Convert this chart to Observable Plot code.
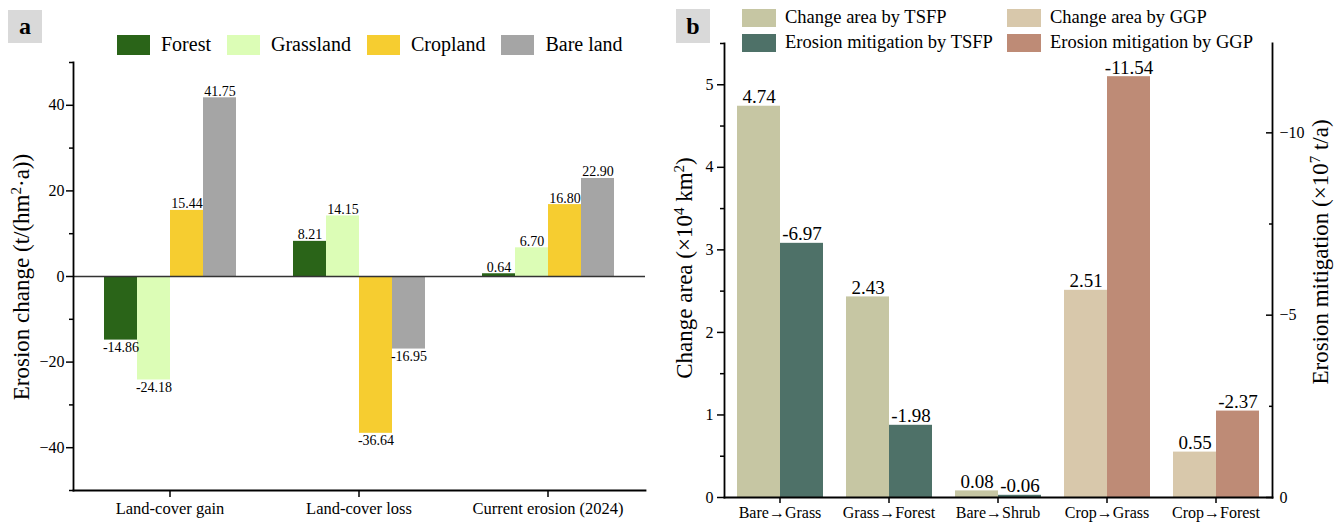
<!DOCTYPE html>
<html><head><meta charset="utf-8">
<script src="https://cdn.jsdelivr.net/npm/d3@7"></script>
<script src="https://cdn.jsdelivr.net/npm/@observablehq/plot@0.6"></script>
<style>
body{margin:0;background:#fff;font-family:"Liberation Serif","Times New Roman",serif;color:#000;}
#wrap{position:relative;width:1343px;height:522px;overflow:hidden;background:#fff;}
.tag{position:absolute;background:#d9d9d9;font-weight:bold;font-size:24px;display:flex;align-items:center;justify-content:center;}
.legA{position:absolute;left:117px;top:33px;display:flex;align-items:center;font-size:20px;white-space:nowrap;}
.legA .it{display:flex;align-items:center;margin-right:16px;}
.legA .sw{width:33px;height:20px;margin-right:11px;}
.legB{position:absolute;display:flex;align-items:center;font-size:18.5px;white-space:nowrap;}
.legB .sw{width:34px;height:18px;margin-right:9px;}
.ytitle{position:absolute;white-space:nowrap;font-size:23px;transform:translate(-50%,-50%) rotate(-90deg);}
.ytitle sup{font-size:15px;vertical-align:8px;line-height:0;}
</style></head>
<body><div id="wrap"></div>
<script>
// ---------- Panel a data ----------
const groupsA = ["Land-cover gain", "Land-cover loss", "Current erosion (2024)"];
const seriesA = ["Forest", "Grassland", "Cropland", "Bare land"];
const forest = [-14.86, 8.21, 0.64];
const grassland = [-24.18, 14.15, 6.70];
const cropland = [15.44, -36.64, 16.80];
const bareLand = [41.75, -16.95, 22.90];
const colorsA = ["#2a6418", "#dcfdb6", "#f6cd30", "#a5a5a5"];
const yTicksA = [-40, -20, 0, 20, 40];
const yMinorA = [-50, -30, -10, 10, 30, 50];

// ---------- Panel b data ----------
const transitions = ["Bare→Grass", "Grass→Forest", "Bare→Shrub", "Crop→Grass", "Crop→Forest"];
const program = ["TSFP", "TSFP", "TSFP", "GGP", "GGP"];
const changeArea = [4.74, 2.43, 0.08, 2.51, 0.55];
const erosionMitigation = [-6.97, -1.98, -0.06, -11.54, -2.37];
const seriesB = ["Change area by TSFP", "Change area by GGP", "Erosion mitigation by TSFP", "Erosion mitigation by GGP"];
const colorsB = ["#c6c6a3", "#d8c8ab", "#4e7168", "#be8b76"];
const yTicksBLeft = [0, 1, 2, 3, 4, 5];
const yMinorBLeft = [0.5, 1.5, 2.5, 3.5, 4.5, 5.5];
const yTicksBRight = [0, -5, -10];
const yMinorBRight = [-2.5, -7.5];
const slots = ["area", "erosion"];

const fmtMinus = d => d < 0 ? "\u2212" + Math.abs(d) : String(d);
const serif = "'Liberation Serif','Times New Roman',serif";
const wrap = document.getElementById("wrap");
const baseStyle = {fontFamily: serif, fontSize: "16px", color: "#000", background: "transparent", overflow: "visible"};
function place(p, left) { p.style.position = "absolute"; p.style.left = left + "px"; p.style.top = "0px"; p.style.maxWidth = "none"; wrap.appendChild(p); }

// ---------- Panel a ----------
const dimA = {width: 660, height: 522, marginLeft: 73, marginRight: 15, marginTop: 62, marginBottom: 32, style: baseStyle};
const valuesA = [forest, grassland, cropland, bareLand];
const dataA = groupsA.flatMap((g, i) => seriesA.map((s, j) => ({group: g, series: s, value: valuesA[j][i]})));
const plotA = Plot.plot({
  ...dimA,
  fx: {domain: groupsA, paddingInner: 0.296, paddingOuter: 0.161, axis: null, label: null},
  x: {domain: seriesA, padding: 0, axis: null},
  y: {domain: [-50, 50], axis: null},
  color: {domain: seriesA, range: colorsA},
  marks: [
    Plot.barY(dataA, {fx: "group", x: "series", y1: 0, y2: "value", fill: "series"}),
    Plot.text(dataA.filter(d => d.value >= 0), {fx: "group", x: "series", y: "value", text: d => d.value.toFixed(2), lineAnchor: "bottom", dy: -2, fontSize: 14, fill: "#000"}),
    Plot.text(dataA.filter(d => d.value < 0), {fx: "group", x: "series", y: "value", text: d => d.value.toFixed(2), lineAnchor: "top", dy: 2, fontSize: 14, fill: "#000"}),
    Plot.axisFx({anchor: "bottom", tickSize: 7, tickPadding: 5, label: null, strokeWidth: 1.5, fontSize: 16.5})
  ]
});
const axesA = Plot.plot({
  ...dimA,
  y: {domain: [-50, 50], axis: null},
  marks: [
    Plot.ruleY([0], {stroke: "#333", strokeWidth: 1.6}),
    Plot.axisY(yTicksA, {tickSize: 7, tickPadding: 2, tickFormat: fmtMinus, strokeWidth: 1.5, fontSize: 16}),
    Plot.axisY(yMinorA, {tickSize: 4, tickFormat: () => "", strokeWidth: 1.5}),
    Plot.frame({anchor: "left", strokeWidth: 1.8}),
    Plot.frame({anchor: "bottom", strokeWidth: 1.8})
  ]
});
place(plotA, 0); place(axesA, 0);

// ---------- Panel b ----------
const dataArea = transitions.map((t, i) => ({t, slot: "area", value: changeArea[i], key: "Change area by " + program[i]}));
const dataEro = transitions.map((t, i) => ({t, slot: "erosion", value: erosionMitigation[i], key: "Erosion mitigation by " + program[i]}));
const dimB = {width: 683, height: 522, marginLeft: 64, marginRight: 71, marginTop: 43, marginBottom: 25, style: baseStyle};
const facetB = {
  fx: {domain: transitions, paddingInner: 0.2, paddingOuter: 0.1, axis: null, label: null},
  x: {domain: slots, padding: 0, axis: null},
  color: {domain: seriesB, range: colorsB}
};
const yRightDomain = [0, -12.45];
const plotB1 = Plot.plot({
  ...dimB, ...facetB,
  y: {domain: [0, 5.5], axis: null},
  marks: [
    Plot.barY(dataArea, {fx: "t", x: "slot", y1: 0, y2: "value", fill: "key"}),
    Plot.text(dataArea, {fx: "t", x: "slot", y: "value", text: d => d.value.toFixed(2), lineAnchor: "bottom", dy: -3, fontSize: 19, fill: "#000"}),
    Plot.axisFx({anchor: "bottom", tickSize: 6, tickPadding: 3, label: null, strokeWidth: 1.5, fontSize: 16})
  ]
});
const plotB2 = Plot.plot({
  ...dimB, ...facetB,
  y: {domain: yRightDomain, axis: null},
  marks: [
    Plot.barY(dataEro, {fx: "t", x: "slot", y1: 0, y2: "value", fill: "key"}),
    Plot.text(dataEro, {fx: "t", x: "slot", y: "value", text: d => d.value.toFixed(2), lineAnchor: "bottom", dy: -3, fontSize: 19, fill: "#000"})
  ]
});
const axesB1 = Plot.plot({
  ...dimB,
  y: {domain: [0, 5.5], axis: null},
  marks: [
    Plot.axisY(yTicksBLeft, {tickSize: 7, tickPadding: 4, tickFormat: fmtMinus, strokeWidth: 1.5, fontSize: 16}),
    Plot.axisY(yMinorBLeft, {tickSize: 4, tickFormat: () => "", strokeWidth: 1.5}),
    Plot.frame({anchor: "left", strokeWidth: 1.8}),
    Plot.frame({anchor: "bottom", strokeWidth: 1.8})
  ]
});
const axesB2 = Plot.plot({
  ...dimB,
  y: {domain: yRightDomain, axis: null},
  marks: [
    Plot.axisY(yTicksBRight, {anchor: "right", tickSize: -7, tickPadding: 14, tickFormat: fmtMinus, strokeWidth: 1.5, fontSize: 16}),
    Plot.axisY(yMinorBRight, {anchor: "right", tickSize: -4, tickFormat: () => "", strokeWidth: 1.5}),
    Plot.frame({anchor: "right", strokeWidth: 1.8})
  ]
});
for (const p of [plotB1, plotB2, axesB1, axesB2]) place(p, 660);

// ---------- HTML legends, tags and titles ----------
function el(html) { const d = document.createElement("div"); d.innerHTML = html; return d.firstElementChild; }
wrap.appendChild(el(`<div class="tag" style="left:8px;top:10px;width:34px;height:33px;">a</div>`));
wrap.appendChild(el(`<div class="tag" style="left:676px;top:9px;width:34px;height:34px;">b</div>`));
const legA = el(`<div class="legA"></div>`);
seriesA.forEach((s, i) => legA.appendChild(el(`<div class="it"><div class="sw" style="background:${colorsA[i]}"></div><span>${s}</span></div>`)));
wrap.appendChild(legA);
const legBPos = [[742, 7], [1007, 7], [742, 32], [1007, 32]];
seriesB.forEach((s, i) => wrap.appendChild(el(`<div class="legB" style="left:${legBPos[i][0]}px;top:${legBPos[i][1]}px;"><div class="sw" style="background:${colorsB[i]}"></div><span>${s}</span></div>`)));
wrap.appendChild(el(`<div class="ytitle" style="left:22px;top:277px;">Erosion change (t/(hm<sup>2</sup>·a))</div>`));
wrap.appendChild(el(`<div class="ytitle" style="left:685px;top:268px;">Change area (×10<sup>4</sup> km<sup>2</sup>)</div>`));
wrap.appendChild(el(`<div class="ytitle" style="left:1321px;top:252px;">Erosion mitigation (×10<sup>7</sup> t/a)</div>`));
</script>
</body></html>
